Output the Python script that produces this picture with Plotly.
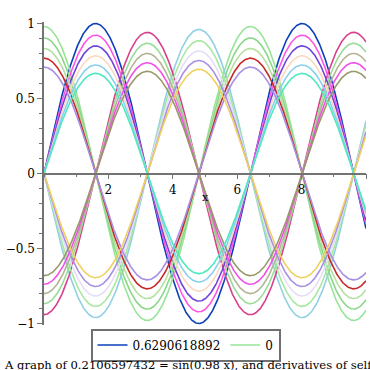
import numpy as np
import plotly.graph_objects as go

# Curves: amplitude * sin(0.98 x) or amplitude * cos(0.98 x)  (f and its derivatives)
freq = 0.98
kinds = ["sin", "cos", "sin", "cos", "sin", "cos", "sin", "cos", "sin", "cos", "sin",
         "cos", "sin", "cos", "sin", "cos", "sin", "cos", "sin", "cos", "sin"]
amps = [1.0, 0.98, -0.9604, -0.9412, 0.9224, 0.9039, -0.8858, -0.8681, 0.8508, 0.8337,
        -0.8171, -0.8007, 0.7847, 0.769, -0.7536, -0.7386, 0.7238, 0.7093, -0.6951, -0.6812, 0.6676]
colors = ["#0a40b8", "#98e498", "#90d0e4", "#d8408c", "#ff55e8", "#88d888", "#a8e8a0",
          "#98dc98", "#7044d8", "#b4e0a0", "#e6def8", "#b4b494", "#fcd8c0", "#c82828",
          "#a890e4", "#f050e8", "#88d0f0", "#a890e4", "#f0d060", "#989868", "#50e8c0"]
legend_names = {0: "0.6290618892", 1: "0"}
x_min, x_max = 0.0, 10.0
x_ticks = [2, 4, 6, 8, 10]
y_ticks = [-1, -0.5, 0, 0.5, 1]
title_text = "A graph of 0.2106597432 = sin(0.98 x), and derivatives of self"

W, H = 370, 370
L, R, T, B = 44, 4, 22, 45
PW, PH = W - L - R, H - T - B

xs = np.linspace(x_min, x_max, 600)
fig = go.Figure()
for i, (k, a, c) in enumerate(zip(kinds, amps, colors)):
    base = np.sin(freq * xs) if k == "sin" else np.cos(freq * xs)
    fig.add_trace(go.Scatter(
        x=xs, y=a * base, mode="lines",
        line=dict(color=c, width=1.6),
        name=legend_names.get(i, ""),
        showlegend=i in legend_names,
        hoverinfo="skip",
    ))

font = "DejaVu Serif"
fig.update_layout(
    width=W, height=H,
    margin=dict(l=L, r=R, t=T, b=B, autoexpand=False),
    paper_bgcolor="white", plot_bgcolor="white",
    font=dict(family=font, size=12, color="black"),
    showlegend=True,
    legend=dict(
        orientation="h", xref="container", yref="container",
        x=185.5 / W, y=1 - 345 / H, xanchor="center", yanchor="middle",
        bordercolor="#707070", borderwidth=2, bgcolor="white",
        font=dict(family=font, size=12, color="black"),
        itemwidth=30, tracegroupgap=0,
    ),
    xaxis=dict(
        range=[x_min, x_max], anchor="free", position=0.5,
        showline=True, linecolor="#737373", linewidth=1.5,
        showgrid=False, zeroline=False,
        tickmode="array", tickvals=x_ticks, ticktext=[str(t) for t in x_ticks],
        ticks="outside", ticklen=5, tickcolor="#737373", tickwidth=1,
        minor=dict(dtick=1, tick0=0, ticks="outside", ticklen=3, tickcolor="#737373"),
        tickfont=dict(family=font, size=12, color="black"),
    ),
    yaxis=dict(
        range=[-1.01, 1.01],
        showline=True, linecolor="#737373", linewidth=1.5,
        showgrid=False, zeroline=False,
        tickmode="array", tickvals=y_ticks,
        ticktext=["\u22121", "\u22120.5", "0", "0.5", "1"],
        ticks="outside", ticklen=5, tickcolor="#737373", tickwidth=1,
        minor=dict(dtick=0.1, tick0=0, ticks="outside", ticklen=3, tickcolor="#737373"),
        tickfont=dict(family=font, size=12, color="black"),
    ),
    annotations=[
        dict(text="x", x=5.0, y=-0.16, xref="x", yref="y", showarrow=False,
             font=dict(family=font, size=11, color="black")),
        dict(text=title_text, x=(2 - L) / PW, y=-(365 - (T + PH)) / PH,
             xref="paper", yref="paper",
             showarrow=False, xanchor="left", yanchor="middle",
             font=dict(family=font, size=11.6, color="black")),
    ],
)
fig.write_html("out.html", config={"displayModeBar": False},
               post_script="document.body.style.margin='0px';document.body.style.overflow='hidden';")
